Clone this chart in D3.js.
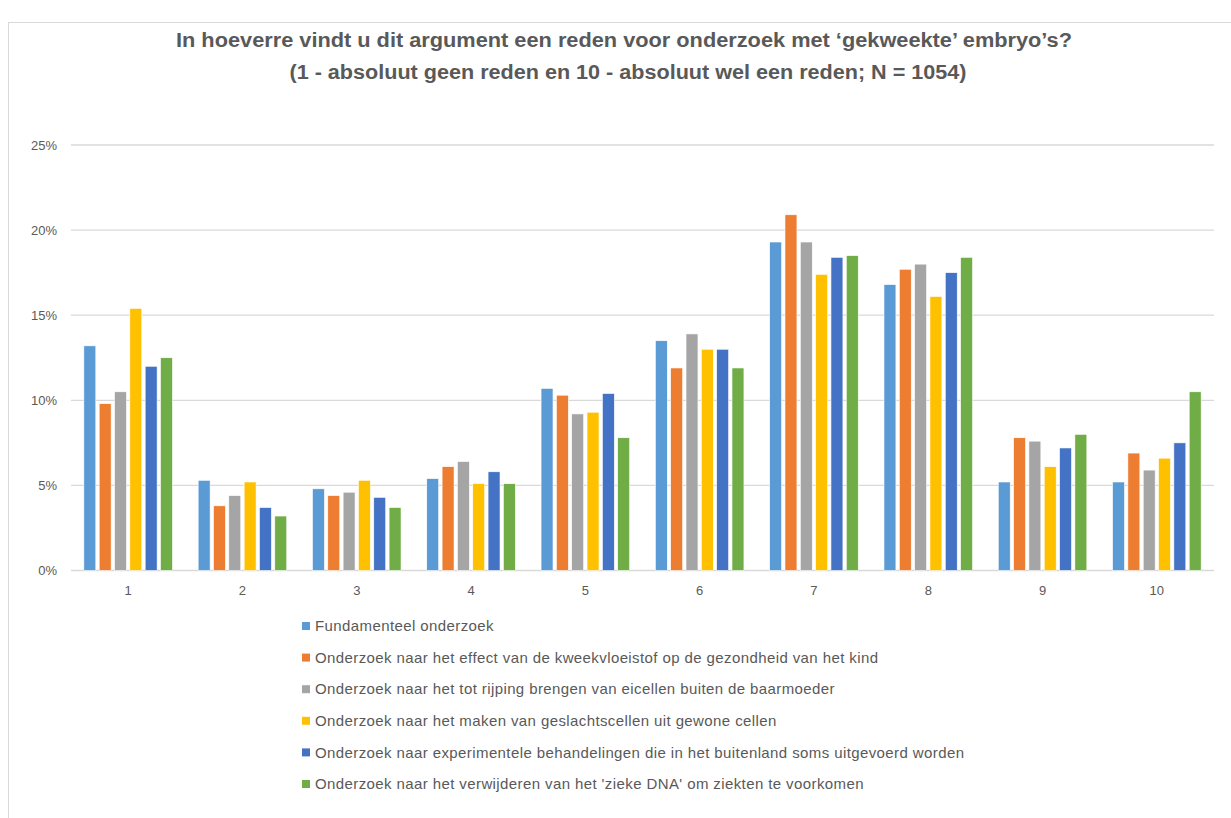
<!DOCTYPE html>
<html>
<head>
<meta charset="utf-8">
<script src="https://cdn.jsdelivr.net/npm/d3@7"></script>
<style>
  body { margin: 0; background: #fff; }
  svg { display: block; }
</style>
</head>
<body>
<div id="chart"></div>
<script>
var categories = ['1', '2', '3', '4', '5', '6', '7', '8', '9', '10']

var seriesNames = [
  'Fundamenteel onderzoek',
  'Onderzoek naar het effect van de kweekvloeistof op de gezondheid van het kind',
  'Onderzoek naar het tot rijping brengen van eicellen buiten de baarmoeder',
  'Onderzoek naar het maken van geslachtscellen uit gewone cellen',
  'Onderzoek naar experimentele behandelingen die in het buitenland soms uitgevoerd worden',
  "Onderzoek naar het verwijderen van het 'zieke DNA' om ziekten te voorkomen"
]

// percentages per answer 1..10
var fundamenteel = [13.2, 5.3, 4.8, 5.4, 10.7, 13.5, 19.3, 16.8, 5.2, 5.2]
var kweekvloeistof = [9.8, 3.8, 4.4, 6.1, 10.3, 11.9, 20.9, 17.7, 7.8, 6.9]
var eicellen = [10.5, 4.4, 4.6, 6.4, 9.2, 13.9, 19.3, 18.0, 7.6, 5.9]
var geslachtscellen = [15.4, 5.2, 5.3, 5.1, 9.3, 13.0, 17.4, 16.1, 6.1, 6.6]
var buitenland = [12.0, 3.7, 4.3, 5.8, 10.4, 13.0, 18.4, 17.5, 7.2, 7.5]
var ziekeDNA = [12.5, 3.2, 3.7, 5.1, 7.8, 11.9, 18.5, 18.4, 8.0, 10.5]

var yTicks = [0, 5, 10, 15, 20, 25]

var colors = ['#5b9bd5', '#ed7d31', '#a5a5a5', '#ffc000', '#4472c4', '#70ad47']

var allSeries = [fundamenteel, kweekvloeistof, eicellen, geslachtscellen, buitenland, ziekeDNA]

var width = 1231, height = 818
var margin = {top: 145, left: 71, right: 17, bottom: 248}
var textColor = '#595959'
var gridColor = '#d9d9d9'

var svg = d3.select('#chart').append('svg')
  .attr('width', width)
  .attr('height', height)

// chart border
svg.append('rect')
  .attr('x', 8.5).attr('y', 22.5)
  .attr('width', width + 20).attr('height', height + 20)
  .attr('fill', 'none')
  .attr('stroke', gridColor)

// title
var title = svg.append('g')
  .attr('font-family', 'Liberation Sans, sans-serif')
  .attr('font-weight', 'bold')
  .attr('font-size', 20)
  .attr('fill', textColor)
  .attr('text-anchor', 'middle')
title.append('text').attr('x', 624).attr('y', 47)
  .attr('textLength', 896).attr('lengthAdjust', 'spacingAndGlyphs')
  .text('In hoeverre vindt u dit argument een reden voor onderzoek met \u2018gekweekte\u2019 embryo\u2019s?')
title.append('text').attr('x', 628).attr('y', 79)
  .attr('textLength', 677).attr('lengthAdjust', 'spacingAndGlyphs')
  .text('(1 - absoluut geen reden en 10 - absoluut wel een reden; N = 1054)')

var x0 = d3.scaleBand()
  .domain(categories)
  .range([margin.left, width - margin.right])
  .paddingInner(0.225)
  .paddingOuter(0.1125)

var x1 = d3.scaleBand()
  .domain(d3.range(allSeries.length))
  .range([0, x0.bandwidth()])
  .paddingInner(0.22)
  .paddingOuter(0)

var y = d3.scaleLinear()
  .domain([0, 25])
  .range([height - margin.bottom + 0.5, margin.top])

// gridlines
svg.append('g')
  .selectAll('line')
  .data(yTicks)
  .join('line')
  .attr('x1', margin.left)
  .attr('x2', width - margin.right)
  .attr('y1', function (d) { return y(d) })
  .attr('y2', function (d) { return y(d) })
  .attr('stroke', gridColor)
  .attr('stroke-width', 1.3)

// y axis labels
var yAxis = svg.append('g')
  .attr('transform', 'translate(' + (margin.left - 14) + ',0)')
  .call(d3.axisLeft(y).tickValues(yTicks).tickSize(0).tickPadding(0)
    .tickFormat(function (d) { return d + '%' }))
yAxis.select('.domain').remove()
yAxis.selectAll('text')
  .attr('font-family', 'Liberation Sans, sans-serif')
  .attr('font-size', 13)
  .attr('fill', textColor)

// x axis labels
var xAxis = svg.append('g')
  .attr('transform', 'translate(0,' + y(0) + ')')
  .call(d3.axisBottom(x0).tickSize(0).tickPadding(15))
xAxis.select('.domain').remove()
xAxis.selectAll('text')
  .attr('font-family', 'Liberation Sans, sans-serif')
  .attr('font-size', 13)
  .attr('fill', textColor)

// bars
var groups = svg.append('g')
  .selectAll('g')
  .data(categories)
  .join('g')
  .attr('transform', function (d) { return 'translate(' + x0(d) + ',0)' })

groups.selectAll('rect')
  .data(function (d, i) {
    return allSeries.map(function (s, k) { return {k: k, v: s[i]} })
  })
  .join('rect')
  .attr('x', function (d) { return x1(d.k) })
  .attr('width', x1.bandwidth())
  .attr('y', function (d) { return y(d.v) })
  .attr('height', function (d) { return y(0) - y(d.v) })
  .attr('fill', function (d) { return colors[d.k] })
  .attr('stroke', '#fff')
  .attr('stroke-width', 0.6)

// legend
var legend = svg.append('g')
  .selectAll('g')
  .data(seriesNames)
  .join('g')
  .attr('transform', function (d, i) { return 'translate(302,' + (626 + i * 31.6) + ')' })

legend.append('rect')
  .attr('x', 0).attr('y', -4)
  .attr('width', 8).attr('height', 8)
  .attr('fill', function (d, i) { return colors[i] })

legend.append('text')
  .attr('x', 13)
  .attr('dy', '0.35em')
  .attr('font-family', 'Liberation Sans, sans-serif')
  .attr('font-size', 15)
  .attr('letter-spacing', 0.4)
  .attr('fill', textColor)
  .text(function (d) { return d })
</script>
</body>
</html>
